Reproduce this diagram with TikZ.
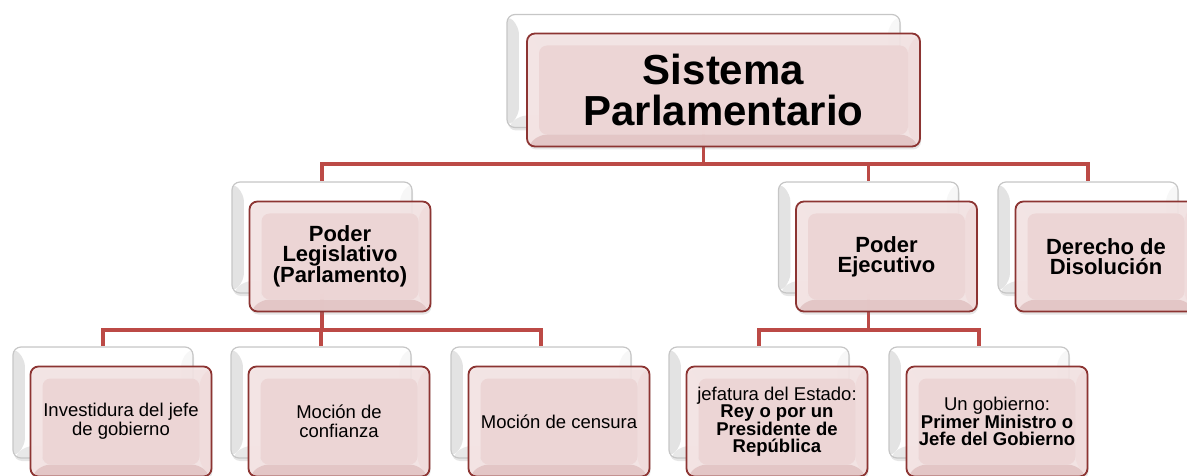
\documentclass[tikz,border=0pt]{standalone}
\usepackage{fontspec}
\setmainfont{Liberation Sans}
\usetikzlibrary{shadows}

\definecolor{boxedge}{RGB}{140,52,50}
\definecolor{boxfill}{RGB}{244,228,228}
\definecolor{boxinner}{RGB}{236,212,212}
\definecolor{boxlow}{RGB}{226,196,196}
\definecolor{boxright}{RGB}{240,220,220}
\definecolor{linkred}{RGB}{188,74,70}

% bevel: bottom and right bands of a box, then its inner face
\newcommand{\bevel}[4]{%
  \path (path picture bounding box.south west) coordinate (bsw)
        (path picture bounding box.south east) coordinate (bse)
        (path picture bounding box.north east) coordinate (bne)
        (path picture bounding box.north west) coordinate (bnw);
  \coordinate (isw) at ([shift={(12pt,12pt)}]bsw);
  \coordinate (ise) at ([shift={(-12pt,12pt)}]bse);
  \coordinate (ine) at ([shift={(-12pt,-12pt)}]bne);
  \coordinate (inw) at ([shift={(12pt,-12pt)}]bnw);
  \fill[#1] (bsw) -- (bnw) -- (inw) -- (isw) -- cycle;
  \fill[#2] (bsw) -- (bse) -- (ise) -- (isw) -- cycle;
  \fill[#3] (bse) -- (bne) -- (ine) -- (ise) -- cycle;
  \fill[#4] (isw) rectangle (ine);}

\tikzset{
  backbox/.style={draw=gray!45, line width=1.2pt, rounded corners=8pt, fill=white,
    minimum width=180pt, minimum height=111pt, inner sep=0pt,
    drop shadow={opacity=0.2, shadow xshift=1pt, shadow yshift=-3pt},
    path picture={\bevel{gray!22}{gray!18}{gray!6}{white}}},
  frontbox/.style={draw=boxedge, line width=1.8pt, rounded corners=8pt, fill=boxfill,
    fill opacity=0.9, text opacity=1, minimum width=181pt, minimum height=110pt,
    inner sep=2pt, align=center,
    drop shadow={opacity=0.2, shadow xshift=1pt, shadow yshift=-3pt},
    path picture={\bevel{boxfill}{boxlow}{boxright}{boxinner}}},
  bigbox/.style={minimum width=393pt, minimum height=113pt},
  link/.style={draw=linkred, line width=3.5pt},
  titlefont/.style={font=\fontsize{42}{41}\selectfont\bfseries},
  headfont/.style={font=\fontsize{22}{20}\selectfont\bfseries},
  leaffont/.style={font=\fontsize{18.5}{19}\selectfont},
  mixfont/.style={font=\fontsize{18.5}{16.5}\selectfont},
}

\begin{document}
\begin{tikzpicture}[x=1pt,y=-1pt]
\useasboundingbox (0,0) rectangle (1187,476);

% back layer
\node[backbox, bigbox] (sysback) at (703.5,71) {};
\node[backbox] (legback) at (322,237.5) {};
\node[backbox] (ejeback) at (868.5,237.5) {};
\node[backbox] (disback) at (1088,237.5) {};
\node[backbox] (invback) at (103,402.5) {};
\node[backbox] (confback) at (321,402.5) {};
\node[backbox] (censback) at (541,402.5) {};
\node[backbox] (jefback) at (759,402.5) {};
\node[backbox] (gobback) at (979,402.5) {};

% connectors
\coordinate (bus1) at (0,164);
\coordinate (bus2) at (0,330);
\draw[link] (sysback.south) -- (sysback.south |- bus1) -| (legback.north);
\draw[link] (sysback.south) -- (sysback.south |- bus1) -| (ejeback.north);
\draw[link] (sysback.south) -- (sysback.south |- bus1) -| (disback.north);
\draw[link] (legback.south) -- (legback.south |- bus2) -| (invback.north);
\draw[link] (legback.south) -- (legback.south |- bus2) -| (confback.north);
\draw[link] (legback.south) -- (legback.south |- bus2) -| (censback.north);
\draw[link] (ejeback.south) -- (ejeback.south |- bus2) -| (jefback.north);
\draw[link] (ejeback.south) -- (ejeback.south |- bus2) -| (gobback.north);

% front layer
\node[frontbox, bigbox, titlefont] (sys) at ([shift={(20pt,-19pt)}]sysback.center) {Sistema\\Parlamentario};
\node[frontbox, headfont] (leg) at ([shift={(18pt,-19pt)}]legback.center) {Poder\\Legislativo\\(Parlamento)};
\node[frontbox, headfont] (eje) at ([shift={(18pt,-19pt)}]ejeback.center) {Poder\\Ejecutivo};
\node[frontbox, headfont] (dis) at ([shift={(18pt,-19pt)}]disback.center) {Derecho de\\Disolución};
\node[frontbox, leaffont] (inv) at ([shift={(18pt,-19pt)}]invback.center) {Investidura del jefe\\de gobierno};
\node[frontbox, leaffont] (conf) at ([shift={(18pt,-19pt)}]confback.center) {Moción de\\confianza};
\node[frontbox, leaffont] (cens) at ([shift={(18pt,-19pt)}]censback.center) {Moción de censura};
\node[frontbox, mixfont] (jef) at ([shift={(18pt,-19pt)}]jefback.center) {jefatura del Estado:\\\textbf{Rey o por un}\\\textbf{Presidente de}\\\textbf{República}};
\node[frontbox, mixfont] (gob) at ([shift={(18pt,-19pt)}]gobback.center) {Un gobierno:\\\textbf{Primer Ministro o}\\\textbf{Jefe del Gobierno}};
\end{tikzpicture}
\end{document}
